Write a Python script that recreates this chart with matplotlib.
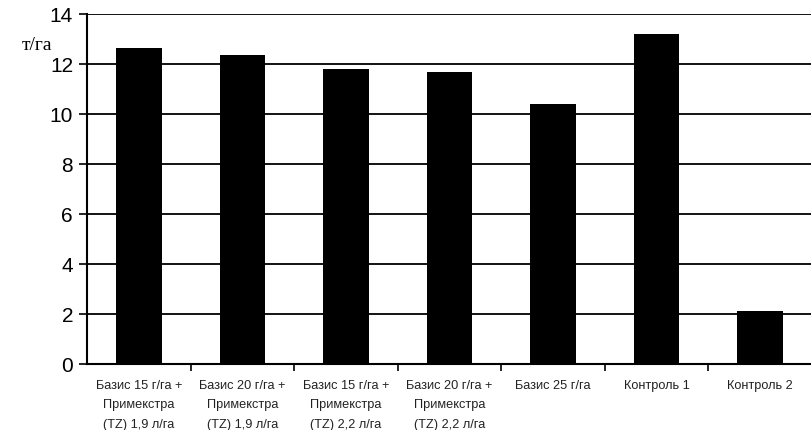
import matplotlib
matplotlib.use("Agg")
import matplotlib.pyplot as plt

categories = [
    "Базис 15 г/га +\nПримекстра\n(TZ) 1,9 л/га",
    "Базис 20 г/га +\nПримекстра\n(TZ) 1,9 л/га",
    "Базис 15 г/га +\nПримекстра\n(TZ) 2,2 л/га",
    "Базис 20 г/га +\nПримекстра\n(TZ) 2,2 л/га",
    "Базис 25 г/га",
    "Контроль 1",
    "Контроль 2",
]
values = [12.65, 12.35, 11.82, 11.7, 10.4, 13.2, 2.12]
yticks = [0, 2, 4, 6, 8, 10, 12, 14]

fig = plt.figure(figsize=(8.12, 4.31), dpi=100)
ax = fig.add_axes([87/812, 1-365/431, 1-87/812, 350/431])

x = list(range(len(categories)))
ax.bar(x, values, width=0.44, color="black", zorder=3)

ax.set_xlim(-0.5, len(categories) - 0.5)
ax.set_ylim(0, 14)
ax.set_yticks(yticks)
ax.set_yticklabels([str(v) for v in yticks], fontsize=15, family="Liberation Sans")
ax.yaxis.grid(True, color="black", linewidth=1.3, zorder=1)
ax.set_axisbelow(True)

ax.set_xticks([i + 0.5 for i in x[:-1]], minor=False)
ax.set_xticklabels([])
ax.set_xticks(x, minor=True)
ax.set_xticklabels(categories, minor=True, fontsize=9.2, family="Liberation Sans",
                   linespacing=1.8, va="top", color="#222222")
ax.tick_params(axis="x", which="minor", length=0, pad=11)
ax.tick_params(axis="x", which="major", length=5, width=1.2, direction="out")
ax.tick_params(axis="y", length=6, width=1.2, direction="out", pad=4)

for s in ["top", "right"]:
    ax.spines[s].set_visible(False)
ax.spines["left"].set_linewidth(1.5)
ax.spines["bottom"].set_linewidth(1.5)

fig.text(22/812, 1-45/431, "т/га", fontsize=14, family="Liberation Serif",
         va="center", ha="left")

fig.savefig("out.png", dpi=100, facecolor="white")
